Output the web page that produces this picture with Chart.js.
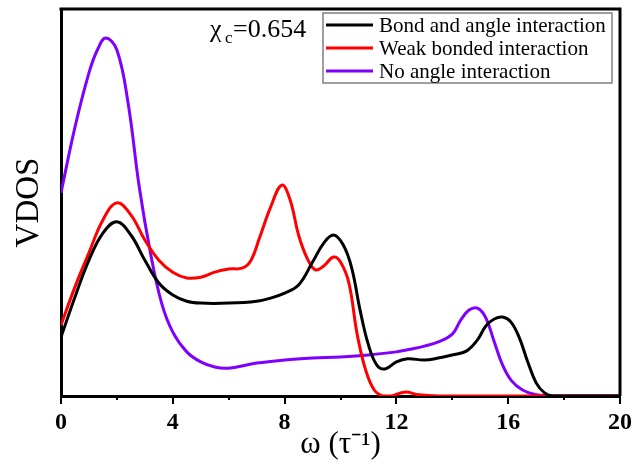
<!DOCTYPE html>
<html>
<head>
<meta charset="utf-8">
<script src="https://cdn.jsdelivr.net/npm/chart.js@4.4.1/dist/chart.umd.min.js"></script>
<style>
  html, body { margin: 0; padding: 0; background: #fff; }
  #chart { display: block; }
</style>
</head>
<body>
<canvas id="chart" width="636" height="464"></canvas>
<script>
// values (VDOS in arbitrary units, 0..100)
const seriesLabels = ['Bond and angle interaction', 'Weak bonded interaction', 'No angle interaction'];
const seriesColors = ['#000000', '#ff0000', '#7f00ff'];

const omegaBond = [0, 0.5, 1, 1.5, 2, 2.5, 3, 3.5, 4, 4.5, 5, 6, 7, 7.5, 8, 8.5, 9, 9.4, 9.75, 10.1, 10.4, 10.7, 11, 11.3, 11.6, 12, 12.4, 13, 13.5, 14, 14.5, 14.9, 15.2, 15.5, 15.8, 16.1, 16.4, 16.7, 17, 17.3, 17.6, 20];
const vdosBond = [15.2, 25.6, 35.1, 42.1, 45.0, 41.6, 35.1, 29.2, 26.1, 24.5, 24.0, 24.0, 24.5, 25.3, 26.6, 28.7, 34.6, 39.5, 41.6, 39.0, 33.1, 22.2, 13.2, 8.0, 7.0, 8.8, 9.6, 9.3, 9.8, 10.6, 11.6, 14.5, 18.1, 19.9, 20.4, 19.1, 15.0, 8.8, 3.4, 0.8, 0, 0];

const omegaWeak = [0, 0.5, 1, 1.5, 2, 2.5, 3, 3.5, 4, 4.5, 5, 5.5, 6, 6.5, 6.8, 7.1, 7.5, 7.9, 8.2, 8.5, 8.8, 9.1, 9.4, 9.75, 10, 10.3, 10.6, 10.9, 11.2, 11.5, 11.8, 12.3, 12.8, 13.5, 20];
const vdosWeak = [18.3, 28.2, 37.0, 45.5, 49.9, 46.8, 40.3, 35.1, 32.0, 30.5, 30.7, 32.0, 32.8, 33.1, 35.1, 40.8, 48.8, 54.5, 50.6, 41.6, 35.7, 32.6, 33.6, 35.9, 34.6, 29.2, 15.8, 6.7, 1.6, 0, 0, 1.0, 0.3, 0, 0];

const omegaNoAngle = [0, 0.5, 1, 1.3, 1.6, 2, 2.4, 2.8, 3.2, 3.6, 4, 4.5, 5, 5.5, 6, 7, 8, 9, 10, 11, 12, 12.5, 13, 13.5, 14, 14.3, 14.6, 14.9, 15.2, 15.5, 15.8, 16.1, 16.5, 17, 17.5, 20];
const vdosNoAngle = [52.5, 69.5, 83.5, 89.4, 92.5, 89.4, 75.7, 54.0, 37.0, 24.0, 16.5, 11.4, 8.8, 7.5, 7.2, 8.5, 9.3, 9.8, 10.1, 10.6, 11.4, 12.1, 12.9, 14.0, 16.0, 19.6, 22.2, 22.7, 20.2, 14.0, 8.0, 4.1, 1.6, 0.3, 0, 0];

const xTickValues = [0, 4, 8, 12, 16, 20];

function toPoints(xs, ys) {
  return xs.map((x, i) => ({ x: x, y: ys[i] }));
}

const serif = "'Liberation Serif', 'Times New Roman', serif";

// ticks, top/right frame, legend box and the chi label
const decorPlugin = {
  id: 'decor',
  afterDraw(chart) {
    const ctx = chart.ctx;
    const area = chart.chartArea;
    const xs = chart.scales.x;
    ctx.save();

    // frame on top and right
    ctx.strokeStyle = '#000';
    ctx.lineWidth = 3;
    ctx.beginPath();
    ctx.moveTo(area.left - 1.5, area.top);
    ctx.lineTo(area.right, area.top);
    ctx.lineTo(area.right, area.bottom);
    ctx.stroke();

    // major and minor ticks on the x axis
    ctx.lineWidth = 2;
    for (let v = 0; v <= 20; v += 2) {
      const px = Math.round(xs.getPixelForValue(v));
      const len = xTickValues.includes(v) ? 8 : 4;
      ctx.beginPath();
      ctx.moveTo(px, area.bottom);
      ctx.lineTo(px, area.bottom + len);
      ctx.stroke();
    }

    // legend
    const lx = 323, ly = 13, lw = 289, lh = 70;
    ctx.fillStyle = '#fff';
    ctx.fillRect(lx, ly, lw, lh);
    ctx.strokeStyle = '#808080';
    ctx.lineWidth = 1.5;
    ctx.strokeRect(lx, ly, lw, lh);
    ctx.font = '21px ' + serif;
    ctx.textBaseline = 'middle';
    ctx.textAlign = 'left';
    chart.data.datasets.forEach((ds, i) => {
      const y = 25 + i * 23;
      ctx.strokeStyle = ds.borderColor;
      ctx.lineWidth = 3;
      ctx.beginPath();
      ctx.moveTo(326, y);
      ctx.lineTo(373, y);
      ctx.stroke();
      ctx.fillStyle = '#000';
      ctx.fillText(ds.label, 379, y + 1);
    });

    // chi_c label
    ctx.fillStyle = '#000';
    ctx.textBaseline = 'alphabetic';
    ctx.font = '26px ' + serif;
    ctx.fillText('\u03c7', 210, 37);
    ctx.font = '17px ' + serif;
    ctx.fillText('c', 225, 43);
    ctx.font = '26px ' + serif;
    ctx.fillText('=0.654', 233, 37);

    ctx.restore();
  }
};

new Chart(document.getElementById('chart'), {
  type: 'line',
  data: {
    datasets: [
      { label: seriesLabels[0], data: toPoints(omegaBond, vdosBond), borderColor: seriesColors[0] },
      { label: seriesLabels[1], data: toPoints(omegaWeak, vdosWeak), borderColor: seriesColors[1] },
      { label: seriesLabels[2], data: toPoints(omegaNoAngle, vdosNoAngle), borderColor: seriesColors[2] }
    ].map(ds => Object.assign(ds, {
      borderWidth: 3,
      pointRadius: 0,
      fill: false,
      tension: 0.4
    }))
  },
  options: {
    responsive: false,
    animation: false,
    layout: { padding: { top: 9, right: 16, left: 0, bottom: 0 } },
    plugins: {
      legend: { display: false },
      tooltip: { enabled: false }
    },
    scales: {
      x: {
        type: 'linear',
        min: 0,
        max: 20,
        afterFit(scale) {
          scale.height = 68;
          scale.paddingLeft = 0;
          scale.paddingRight = 0;
        },
        border: { display: true, color: '#000', width: 3 },
        grid: { display: false },
        ticks: {
          stepSize: 4,
          color: '#000',
          padding: 4,
          maxRotation: 0,
          autoSkip: false,
          font: { family: serif, size: 24, weight: 'bold' }
        },
        title: {
          display: true,
          text: '\u03c9 (\u03c4\u207b\u00b9)',
          color: '#000',
          font: { family: serif, size: 31 },
          padding: { top: 0, bottom: 1 }
        }
      },
      y: {
        min: 0,
        max: 100,
        afterFit(scale) { scale.width = 61; },
        border: { display: true, color: '#000', width: 3 },
        grid: { display: false },
        ticks: { display: false },
        title: {
          display: true,
          text: 'VDOS',
          color: '#000',
          font: { family: serif, size: 33 },
          padding: { top: 10, bottom: 0 }
        }
      }
    }
  },
  plugins: [decorPlugin]
});
</script>
</body>
</html>
